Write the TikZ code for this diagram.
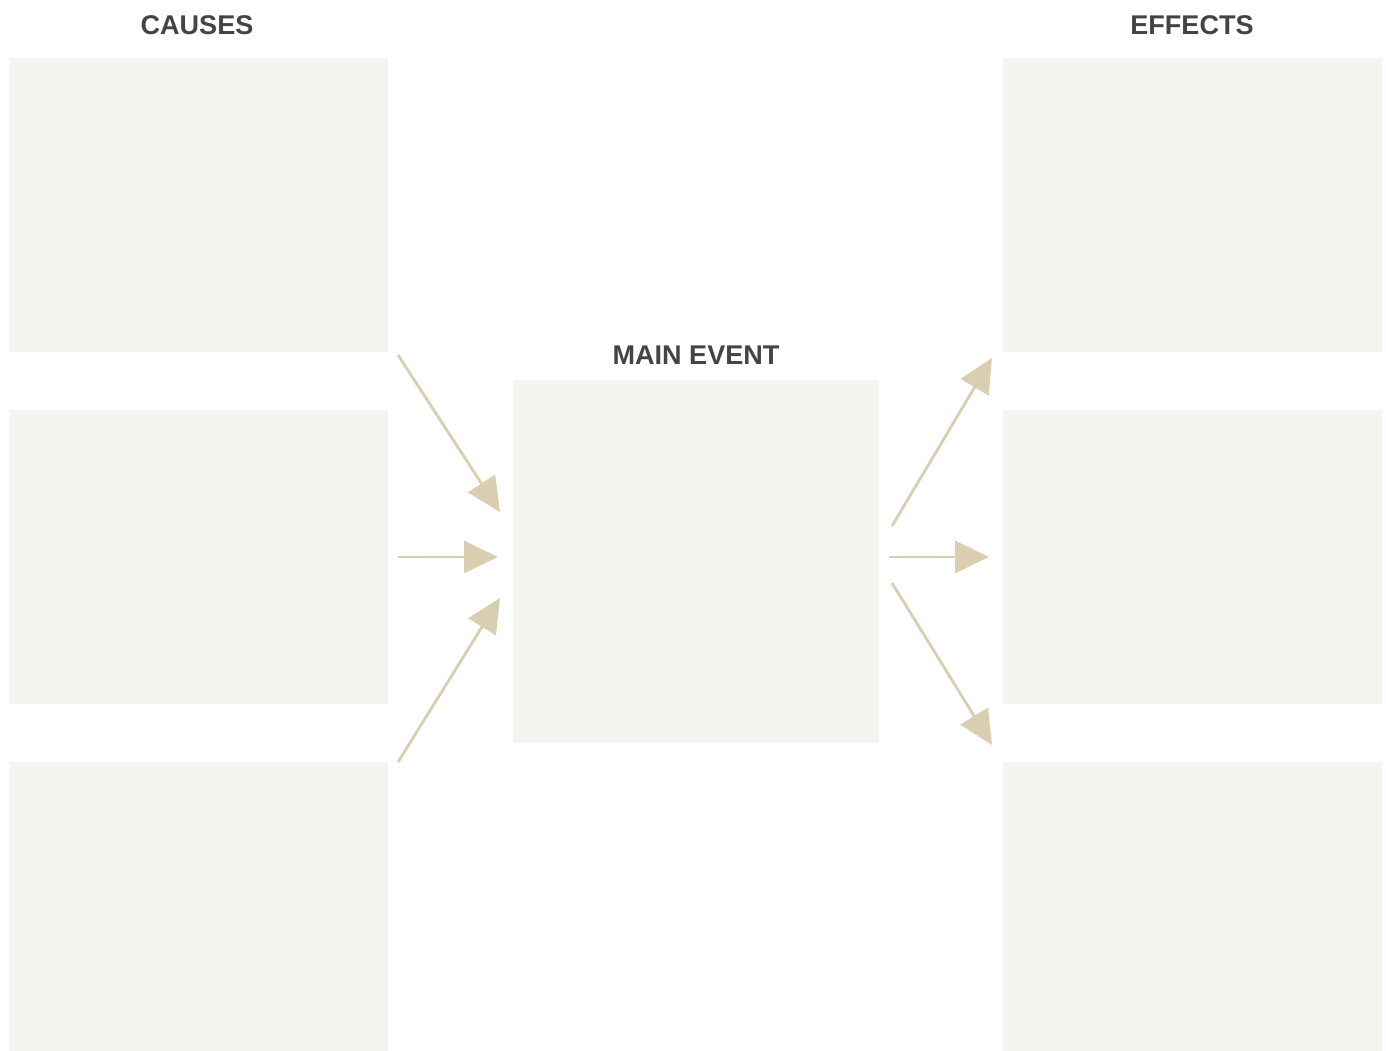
\documentclass[tikz,border=0pt]{standalone}
\usepackage{fontspec}
\setmainfont{Liberation Sans}
\usepackage{xcolor}
\definecolor{Panel}{RGB}{245,244,239}
\definecolor{Tan}{RGB}{217,207,176}
\definecolor{Ink}{RGB}{68,68,68}
\usetikzlibrary{arrows.meta}

\begin{document}
\begin{tikzpicture}[x=0.02cm, y=-0.02cm,
		panel/.style={fill=Panel, draw=none, inner sep=0pt, minimum width=7.58cm, minimum height=5.88cm},
		title/.style={color=Ink, font=\fontsize{15.4}{18}\selectfont\bfseries},
		link/.style={draw=Tan, line width=1.6pt, -{Triangle[length=0.68cm, width=0.64cm]}}]
		
		\useasboundingbox (0,0) rectangle (1386,1051);
		
		% Rectangle
		\node[panel] (cause1) at (198.5,205) {};
		\node[panel] (cause2) at (198.5,557) {};
		\node[panel, minimum height=5.78cm] (cause3) at (198.5,906.5) {};
		\node[panel, minimum width=7.32cm, minimum height=7.26cm] (event) at (696,561.5) {};
		\node[panel] (effect1) at (1192.5,205) {};
		\node[panel] (effect2) at (1192.5,557) {};
		\node[panel, minimum height=5.78cm] (effect3) at (1192.5,906.5) {};
		
		% Text
		\node[title] (causes) at (197,25) {CAUSES};
		\node[title] (effects) at (1192,25) {EFFECTS};
		\node[title] (main) at (696,355) {MAIN EVENT};
		
		% Ends of the arrows
		\coordinate (a1) at (398,355);  \coordinate (b1) at (500,512);
		\coordinate (a2) at (398,557);  \coordinate (b2) at (498,557);
		\coordinate (a3) at (398,762);  \coordinate (b3) at (500,598);
		\coordinate (c1) at (892,526);  \coordinate (d1) at (992,358);
		\coordinate (c2) at (889,557);  \coordinate (d2) at (989,557);
		\coordinate (c3) at (892,583);  \coordinate (d3) at (992,745);
		
		% Lines
		\draw[link] (a1) -- (b1);
		\draw[link] (a2) -- (b2);
		\draw[link] (a3) -- (b3);
		\draw[link] (c1) -- (d1);
		\draw[link] (c2) -- (d2);
		\draw[link] (c3) -- (d3);
		
	\end{tikzpicture}
\end{document}
